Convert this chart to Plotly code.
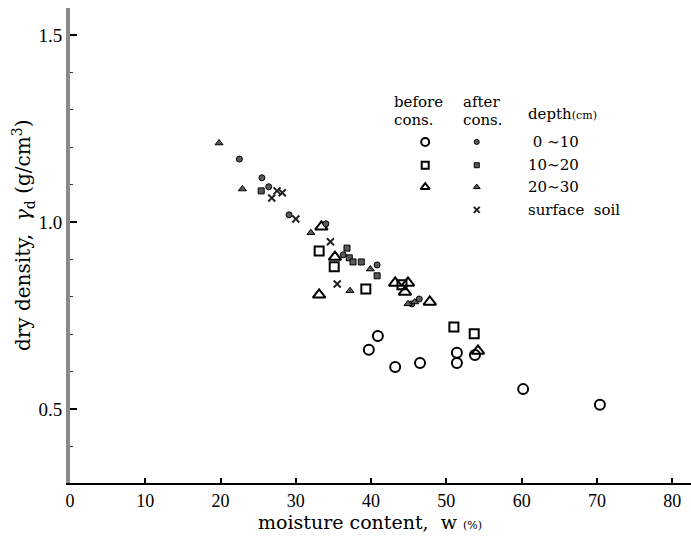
import plotly.graph_objects as go

# ---- data (moisture content w %, dry density g/cm3) ----
before_010_w = [40.9, 39.7, 43.2, 46.5, 51.4, 51.4, 53.8, 60.2, 70.4]
before_010_d = [0.695, 0.658, 0.612, 0.623, 0.650, 0.623, 0.644, 0.553, 0.511]

before_1020_w = [33.1, 35.1, 39.3, 44.1, 51.0, 53.7]
before_1020_d = [0.922, 0.880, 0.821, 0.832, 0.719, 0.701]

before_2030_w = [33.4, 35.2, 33.1, 43.2, 44.9, 44.5, 47.8, 54.2]
before_2030_d = [0.987, 0.906, 0.805, 0.837, 0.837, 0.813, 0.786, 0.655]

after_010_w = [22.5, 25.5, 26.4, 29.1, 34.0, 36.3, 40.8, 46.4, 45.4]
after_010_d = [1.168, 1.118, 1.094, 1.019, 0.995, 0.912, 0.885, 0.794, 0.781]

after_1020_w = [25.4, 36.8, 37.1, 37.6, 38.7, 40.8]
after_1020_d = [1.083, 0.930, 0.904, 0.893, 0.893, 0.856]

after_2030_w = [19.8, 22.9, 32.0, 39.9, 37.2, 44.9, 45.8]
after_2030_d = [1.211, 1.088, 0.971, 0.874, 0.816, 0.781, 0.786]

surface_w = [27.5, 28.2, 26.8, 30.0, 34.6, 35.5]
surface_d = [1.083, 1.078, 1.064, 1.008, 0.947, 0.834]

x_ticks = [0, 10, 20, 30, 40, 50, 60, 70, 80]
y_ticks = [0.5, 1.0, 1.5]
y_tick_text = ["0.5", "1.0", "1.5"]

legend_labels = [" 0 \u223c10", "10\u223c20", "20\u223c30", "surface  soil"]

FONT = "DejaVu Serif"
TICK_FONT = "Liberation Serif"
AFTER_COL = "#5a5a5a"

before_style = dict(color="rgba(0,0,0,0)", line=dict(color="black", width=2))
after_style = dict(color=AFTER_COL, line=dict(color="black", width=1))

fig = go.Figure()

def add(xs, ys, symbol, size, style, xaxis="x", yaxis="y"):
    fig.add_trace(go.Scatter(
        x=xs, y=ys, mode="markers", xaxis=xaxis, yaxis=yaxis,
        marker=dict(symbol=symbol, size=size, **style),
        showlegend=False, hoverinfo="skip"))

add(before_010_w, before_010_d, "circle", 10, before_style)
add(before_1020_w, before_1020_d, "square", 9, before_style)
add(before_2030_w, before_2030_d, "triangle-up", 11, before_style)
add(after_010_w, after_010_d, "circle", 6, after_style)
add(after_1020_w, after_1020_d, "square", 6, after_style)
add(after_2030_w, after_2030_d, "triangle-up", 7, after_style)
add(surface_w, surface_d, "x-thin", 7, dict(line=dict(color="#222", width=2)))

# ---- custom legend on an overlay axis (0..1 over the plot area) ----
leg_rows_y = [0.718, 0.669, 0.623, 0.575]
leg_before_x = 0.572
leg_after_x = 0.655
add([leg_before_x], [leg_rows_y[0]], "circle", 8, before_style, "x2", "y2")
add([leg_before_x], [leg_rows_y[1]], "square", 7, before_style, "x2", "y2")
add([leg_before_x], [leg_rows_y[2]], "triangle-up", 8, before_style, "x2", "y2")
add([leg_after_x], [leg_rows_y[0]], "circle", 5, after_style, "x2", "y2")
add([leg_after_x], [leg_rows_y[1]], "square", 5, after_style, "x2", "y2")
add([leg_after_x], [leg_rows_y[2]], "triangle-up", 6, after_style, "x2", "y2")
add([leg_after_x], [leg_rows_y[3]], "x-thin", 6, dict(line=dict(color="#222", width=2)), "x2", "y2")

annotations = []
def txt(x, y, s, size=16, xanchor="left", xref="x2", yref="y2", angle=0):
    annotations.append(dict(x=x, y=y, xref=xref, yref=yref, text=s, showarrow=False,
                            xanchor=xanchor, yanchor="middle", textangle=angle,
                            font=dict(family=FONT, size=size, color="black")))

txt(0.518, 0.802, "before", 15)
txt(0.518, 0.765, "cons.", 15)
txt(0.630, 0.802, "after", 15)
txt(0.630, 0.765, "cons.", 15)
txt(0.734, 0.777, "depth<span style='font-size:11px'>(cm)</span>", 15)
for yy, lab in zip(leg_rows_y, legend_labels):
    txt(0.734, yy, lab, 15)

# axis titles
txt(0.483, -0.082, "moisture content,  w <span style='font-size:11px'>(%)</span>", 19,
    xanchor="center", xref="paper", yref="paper")
txt(-0.0757, 0.522, "dry density,  <i>\u03b3</i><sub>d</sub> (g/cm<sup>3</sup>)", 20,
    xanchor="center", xref="paper", yref="paper", angle=-90)

fig.update_layout(
    width=691, height=544,
    margin=dict(l=70, r=0, t=8, b=61),
    plot_bgcolor="white", paper_bgcolor="white",
    font=dict(family=FONT, size=16, color="black"),
    xaxis=dict(range=[0, 82.5], tickvals=x_ticks, ticks="inside", ticklen=5,
               tickwidth=1.5, tickcolor="black", automargin=False,
               showline=True, linecolor="black", linewidth=2,
               showgrid=False, zeroline=False,
               tickfont=dict(family=TICK_FONT, size=18)),
    yaxis=dict(range=[0.302, 1.572], tickvals=y_ticks, ticktext=y_tick_text,
               ticks="inside", ticklen=7, tickwidth=2, tickcolor="black",
               automargin=False,
               minor=dict(dtick=0.1, tick0=0.0, ticks="inside", ticklen=3,
                          tickcolor="#333", tickwidth=1),
               showline=True, linecolor="#8a8a8a", linewidth=4,
               showgrid=False, zeroline=False,
               tickfont=dict(family=TICK_FONT, size=19)),
    xaxis2=dict(range=[0, 1], overlaying="x", visible=False, fixedrange=True),
    yaxis2=dict(range=[0, 1], overlaying="y", visible=False, fixedrange=True),
    annotations=annotations,
)

fig.write_html("out.html", config={"displayModeBar": False},
               post_script="document.body.style.margin='0';")
